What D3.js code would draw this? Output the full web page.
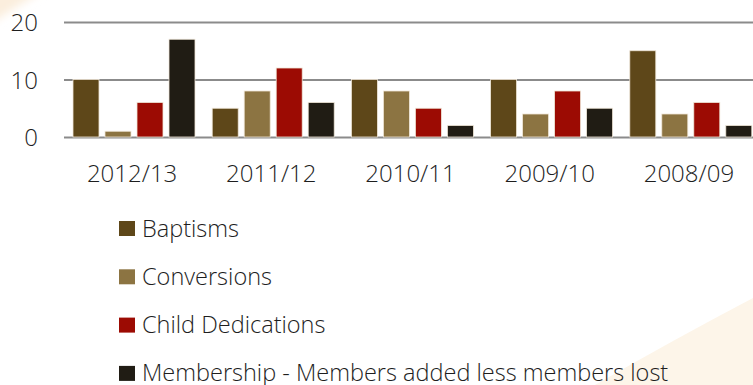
<!DOCTYPE html>
<html>
<head>
<meta charset="utf-8">
<script src="https://cdn.jsdelivr.net/npm/d3@7"></script>
<style>
  html, body { margin: 0; padding: 0; background: #ffffff; }
  svg { display: block; }
  text { font-family: "Open Sans", "Noto Sans", sans-serif; font-weight: 300; fill: #1e1e1e; }
</style>
</head>
<body>
<svg id="chart" width="753" height="385"></svg>
<script>
// Church statistics by year
const years = ["2012/13", "2011/12", "2010/11", "2009/10", "2008/09"];
const seriesNames = ["Baptisms", "Conversions", "Child Dedications", "Membership - Members added less members lost"];
const baptisms = [10, 5, 10, 10, 15];
const conversions = [1, 8, 8, 4, 4];
const childDedications = [6, 12, 5, 8, 6];
const membership = [17, 6, 2, 5, 2];
const yTicks = [0, 10, 20];
const seriesColors = ["#5e4719", "#8c7442", "#9c0b03", "#201c14"];

const seriesValues = [baptisms, conversions, childDedications, membership];

const svg = d3.select("#chart");
const W = 753, H = 385;

// soft paper-coloured background accents
svg.append("path")
  .attr("d", `M${W - 158},${H} Q${W - 80},${H - 45} ${W},${H - 87} L${W},${H} Z`)
  .attr("fill", "#fdf5e9");
const defs = svg.append("defs");
const blur = defs.append("filter").attr("id", "soft").attr("x", "-50%").attr("y", "-50%").attr("width", "200%").attr("height", "200%");
blur.append("feGaussianBlur").attr("stdDeviation", 4);
svg.append("path")
  .attr("d", "M-10,-10 L45,-10 Q20,4 -10,24 Z")
  .attr("fill", "#fbeedd")
  .attr("filter", "url(#soft)");

const plotLeft = 64;
const step = 139.2;
const x0 = d3.scaleBand().domain(years).range([plotLeft, plotLeft + step * years.length]).paddingInner(0).paddingOuter(0);
const x1 = d3.scaleBand().domain(seriesNames).range([9, 131]).paddingInner(0.1875).paddingOuter(0);
const y = d3.scaleLinear().domain([0, 20]).range([137, 22]);

// gridlines with value labels
const yAxis = d3.axisLeft(y).tickValues(yTicks).tickSize(-(W - plotLeft + 20)).tickPadding(26).tickFormat(d3.format("d"));
const gy = svg.append("g").attr("transform", `translate(${plotLeft},0)`).call(yAxis);
gy.select(".domain").remove();
gy.selectAll(".tick line").attr("stroke", "#8b8b8b").attr("stroke-width", 2.2);
gy.selectAll(".tick text").attr("font-size", 24).attr("fill", "#1e1e1e")
  .style("font-family", "\"Open Sans\", sans-serif").style("font-weight", 300).attr("dy", "0.36em");

// bars
const groups = svg.append("g").selectAll("g")
  .data(years)
  .join("g")
  .attr("transform", d => `translate(${x0(d)},0)`);

groups.selectAll("rect")
  .data((yr, i) => seriesNames.map((s, k) => ({ s, v: seriesValues[k][i], k })))
  .join("rect")
  .attr("x", d => x1(d.s))
  .attr("width", x1.bandwidth())
  .attr("y", d => y(d.v))
  .attr("height", d => y(0) - y(d.v))
  .attr("fill", d => seriesColors[d.k])
  .attr("stroke", "#efe6d8")
  .attr("stroke-width", 0.8);

// category labels
const xAxis = d3.axisBottom(x0).tickSize(0).tickPadding(0);
const gx = svg.append("g").attr("transform", "translate(-1.5,182)").call(xAxis);
gx.select(".domain").remove();
gx.selectAll(".tick text").attr("font-size", 24).attr("fill", "#1e1e1e").attr("dy", 0)
  .style("font-family", "\"Open Sans\", sans-serif").style("font-weight", 300);

// legend
const legend = svg.append("g").attr("transform", "translate(119,221)");
const item = legend.selectAll("g").data(seriesNames).join("g")
  .attr("transform", (d, i) => `translate(0,${i * 48.3})`);
item.append("rect").attr("width", 16).attr("height", 15).attr("fill", (d, i) => seriesColors[i]);
item.append("text")
  .attr("font-size", 24)
  .attr("transform", "translate(23,15.5) scale(0.98,1)")
  .text(d => d);
</script>
</body>
</html>
